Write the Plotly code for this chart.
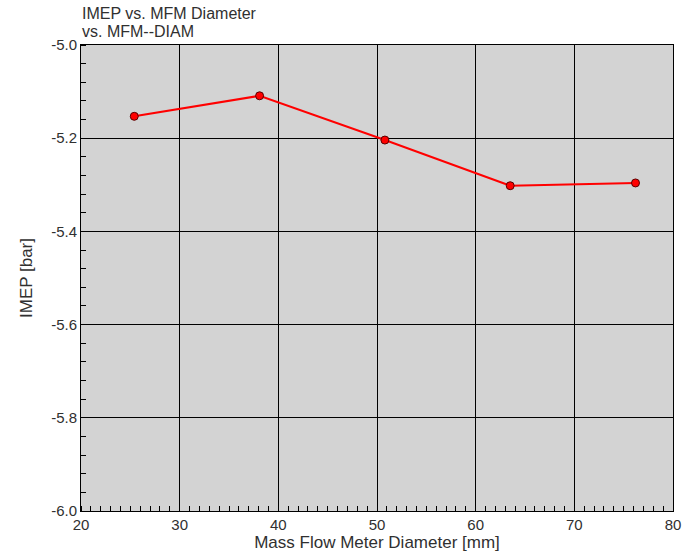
import plotly.graph_objects as go

# Mass flow meter diameters (1.0, 1.5, 2.0, 2.5, 3.0 inch) and resulting IMEP
diameter_mm = [25.4, 38.1, 50.8, 63.5, 76.2]
imep_bar = [-5.153, -5.109, -5.204, -5.302, -5.296]

x_ticks = [20, 30, 40, 50, 60, 70, 80]
y_ticks = [-6.0, -5.8, -5.6, -5.4, -5.2, -5.0]

title_lines = ["IMEP vs. MFM Diameter", "vs. MFM--DIAM"]

font_family = "Liberation Sans, Arial, sans-serif"
text_color = "#303030"

fig = go.Figure()
fig.add_trace(go.Scatter(
    x=diameter_mm,
    y=imep_bar,
    mode="lines+markers",
    line=dict(color="#ff0000", width=2),
    marker=dict(color="#ff0000", size=8, line=dict(color="#5a0000", width=1)),
    showlegend=False,
))

axis_common = dict(
    showgrid=True,
    gridcolor="#000000",
    gridwidth=1,
    showline=True,
    linecolor="#000000",
    linewidth=1,
    mirror=True,
    zeroline=False,
    ticks="",
    automargin=False,
    tickfont=dict(family=font_family, size=15, color=text_color),
    title_font=dict(family=font_family, size=17, color=text_color),
)

fig.update_layout(
    width=689,
    height=559,
    margin=dict(l=81, r=16, t=45, b=48),
    paper_bgcolor="#ffffff",
    plot_bgcolor="#d3d3d3",
    font=dict(family=font_family, color=text_color),
    xaxis=dict(
        range=[20, 80],
        tickvals=x_ticks,
        ticktext=[str(v) for v in x_ticks],
        title=dict(text="Mass Flow Meter Diameter [mm]", standoff=4),
        minor=dict(ticks="inside", dtick=1, tick0=20, ticklen=5,
                   tickcolor="#000000", showgrid=False),
        **axis_common,
    ),
    yaxis=dict(
        range=[-6.0, -5.0],
        tickvals=y_ticks,
        ticktext=[f"{v:.1f}" for v in y_ticks],
        title=dict(text="IMEP [bar]", standoff=14),
        minor=dict(ticks="inside", dtick=0.04, tick0=-6.0, ticklen=5,
                   tickcolor="#000000", showgrid=False),
        **axis_common,
    ),
)

# Two-line title drawn as separate, tightly spaced annotations
for line_text, shift in zip(title_lines, [32, 14]):
    fig.add_annotation(
        text=line_text,
        xref="paper", yref="paper",
        x=0, y=1, xanchor="left", yanchor="middle",
        yshift=shift,
        xshift=-1,
        align="left",
        showarrow=False,
        font=dict(family=font_family, size=16, color=text_color),
    )

fig.write_html("out.html")
